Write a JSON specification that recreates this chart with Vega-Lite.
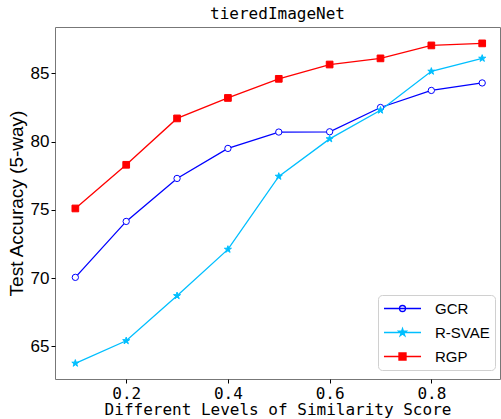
{
  "$schema": "https://vega.github.io/schema/vega-lite/v6.json",
  "width": 445,
  "height": 352,
  "autosize": "none",
  "padding": {"left": 55, "top": 27, "right": 1, "bottom": 40},
  "background": "white",
  "title": {"text": "tieredImageNet", "font": "DejaVu Sans Mono", "fontSize": 16, "fontWeight": "normal", "color": "black", "offset": 5},
  "config": {
    "view": {"stroke": "#777", "strokeWidth": 1},
    "axis": {"grid": false, "domain": false, "tickColor": "black", "tickSize": 4, "labelColor": "black", "titleColor": "black", "titleFontWeight": "normal"},
    "legend": {
      "orient": "none", "legendX": 323, "legendY": 268,
      "strokeColor": "#d0d0d0", "cornerRadius": 4, "padding": 5, "fillColor": "white",
      "labelFont": "Liberation Sans", "labelFontSize": 15, "labelColor": "black",
      "symbolSize": 225, "symbolStrokeWidth": 1.3, "symbolOffset": 11, "labelOffset": 24, "rowPadding": 7, "symbolOpacity": 1
    }
  },
  "data": {"values": [
    {"x": 0.1, "series": "GCR", "value": 70.05},
    {"x": 0.2, "series": "GCR", "value": 74.15},
    {"x": 0.3, "series": "GCR", "value": 77.3},
    {"x": 0.4, "series": "GCR", "value": 79.5},
    {"x": 0.5, "series": "GCR", "value": 80.7},
    {"x": 0.6, "series": "GCR", "value": 80.72},
    {"x": 0.7, "series": "GCR", "value": 82.5},
    {"x": 0.8, "series": "GCR", "value": 83.75},
    {"x": 0.9, "series": "GCR", "value": 84.3},
    {"x": 0.1, "series": "R-SVAE", "value": 63.75},
    {"x": 0.2, "series": "R-SVAE", "value": 65.4},
    {"x": 0.3, "series": "R-SVAE", "value": 68.7},
    {"x": 0.4, "series": "R-SVAE", "value": 72.1},
    {"x": 0.5, "series": "R-SVAE", "value": 77.45},
    {"x": 0.6, "series": "R-SVAE", "value": 80.2},
    {"x": 0.7, "series": "R-SVAE", "value": 82.3},
    {"x": 0.8, "series": "R-SVAE", "value": 85.15},
    {"x": 0.9, "series": "R-SVAE", "value": 86.1},
    {"x": 0.1, "series": "RGP", "value": 75.1},
    {"x": 0.2, "series": "RGP", "value": 78.3},
    {"x": 0.3, "series": "RGP", "value": 81.7},
    {"x": 0.4, "series": "RGP", "value": 83.2},
    {"x": 0.5, "series": "RGP", "value": 84.6},
    {"x": 0.6, "series": "RGP", "value": 85.65},
    {"x": 0.7, "series": "RGP", "value": 86.1},
    {"x": 0.8, "series": "RGP", "value": 87.05},
    {"x": 0.9, "series": "RGP", "value": 87.2}
  ]},
  "encoding": {
    "x": {"field": "x", "type": "quantitative", "scale": {"domain": [0.06, 0.935], "nice": false, "zero": false},
      "axis": {"values": [0.2, 0.4, 0.6, 0.8], "format": ".1f", "title": "Different Levels of Similarity Score",
        "labelFont": "DejaVu Sans Mono", "labelFontSize": 16, "labelPadding": 2,
        "titleFont": "DejaVu Sans Mono", "titleFontSize": 16, "titlePadding": 0}},
    "y": {"field": "value", "type": "quantitative", "scale": {"domain": [62.6, 88.4], "nice": false, "zero": false},
      "axis": {"values": [65, 70, 75, 80, 85], "title": "Test Accuracy (5-way)",
        "labelFont": "Liberation Sans", "labelFontSize": 17, "labelPadding": 2,
        "titleFont": "Liberation Sans", "titleFontSize": 19, "titlePadding": 4}}
  },
  "layer": [
    {
      "transform": [{"filter": "datum.series === 'GCR'"}],
      "mark": {"type": "line", "strokeWidth": 1.3, "stroke": "#0000ff"}
    },
    {
      "transform": [{"filter": "datum.series === 'R-SVAE'"}],
      "mark": {"type": "line", "strokeWidth": 1.3, "stroke": "#00bfff"}
    },
    {
      "transform": [{"filter": "datum.series === 'RGP'"}],
      "mark": {"type": "line", "strokeWidth": 1.3, "stroke": "#ff0000"}
    },
    {
      "transform": [{"filter": "datum.series === 'GCR'"}],
      "mark": {"type": "point", "filled": false, "shape": "circle", "size": 40, "strokeWidth": 1, "opacity": 1, "fill": "white", "stroke": "#0000ff"}
    },
    {
      "transform": [{"filter": "datum.series === 'R-SVAE'"}],
      "mark": {"type": "point", "filled": false, "shape": "M0,-1L0.225,-0.309L0.951,-0.309L0.363,0.118L0.588,0.809L0,0.382L-0.588,0.809L-0.363,0.118L-0.951,-0.309L-0.225,-0.309Z", "size": 55, "strokeWidth": 1, "opacity": 1, "fill": "#00bfff", "stroke": "#00bfff"}
    },
    {
      "transform": [{"filter": "datum.series === 'RGP'"}],
      "mark": {"type": "point", "filled": false, "shape": "square", "size": 45, "strokeWidth": 1, "opacity": 1, "fill": "#ff0000", "stroke": "#ff0000"}
    },
    {
      "mark": {"type": "point", "filled": false, "opacity": 0},
      "encoding": {
        "stroke": {"field": "series", "type": "nominal", "scale": {"domain": ["GCR", "R-SVAE", "RGP"], "range": ["#0000ff", "#00bfff", "#ff0000"]}, "legend": {"title": null}},
        "fill": {"field": "series", "type": "nominal", "scale": {"domain": ["GCR", "R-SVAE", "RGP"], "range": ["#ffffff", "#00bfff", "#ff0000"]}, "legend": {"title": null}},
        "shape": {"field": "series", "type": "nominal", "scale": {"domain": ["GCR", "R-SVAE", "RGP"], "range": [
          "M-2.47,0H2.47M-0.4,0A0.4,0.4 0 1,0 0.4,0A0.4,0.4 0 1,0 -0.4,0Z",
          "M-2.47,0H2.47M0,-0.53L0.119,-0.164L0.504,-0.164L0.192,0.063L0.312,0.429L0,0.202L-0.312,0.429L-0.192,0.063L-0.504,-0.164L-0.119,-0.164Z",
          "M-2.47,0H2.47M-0.47,-0.47H0.47V0.47H-0.47Z"
        ]}, "legend": {"title": null}}
      }
    }
  ]
}
